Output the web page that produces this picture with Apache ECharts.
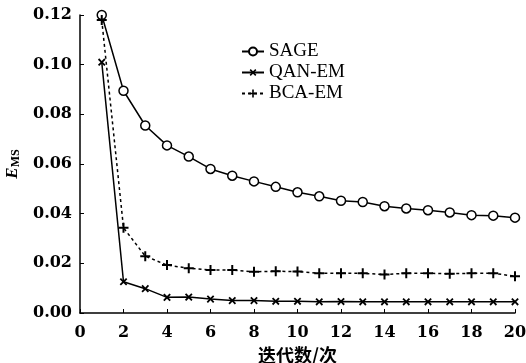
<!DOCTYPE html>
<html><head><meta charset="utf-8">
<script src="https://cdn.jsdelivr.net/npm/echarts@6/dist/echarts.min.js"></script>
<style>html,body{margin:0;padding:0;background:#fff}#c{width:526px;height:363px}</style>
</head><body><div id="c"></div>
<script>
const iterations = [1,2,3,4,5,6,7,8,9,10,11,12,13,14,15,16,17,18,19,20];
const sage = [0.120,0.0895,0.0755,0.0675,0.063,0.058,0.0553,0.053,0.0508,0.0486,0.047,0.0452,0.0447,0.043,0.0421,0.0414,0.0405,0.0394,0.0392,0.0384];
const qanem = [0.101,0.0126,0.0098,0.0063,0.0064,0.0056,0.005,0.005,0.0047,0.0047,0.0045,0.0046,0.0045,0.0045,0.0045,0.0045,0.0045,0.0045,0.0045,0.0045];
const bcaem = [0.118,0.0343,0.0229,0.0193,0.018,0.0173,0.0173,0.0166,0.0168,0.0167,0.016,0.016,0.016,0.0155,0.016,0.016,0.0158,0.016,0.016,0.0148];
const names = ['SAGE','QAN-EM','BCA-EM'];
const xTicks = {min:0,max:20,interval:2};
const yTicks = {min:0,max:0.12,interval:0.02};

const plus = 'path://M4,0H6V4H10V6H6V10H4V6H0V4H4Z';
const font = 'Liberation Serif';
const numFont = 'DejaVu Serif';
function pairs(v){return iterations.map((x,i)=>[x,v[i]]);}

const chart = echarts.init(document.getElementById('c'));
chart.setOption({
  animation:false,
  backgroundColor:'#fff',
  grid:{left:80,right:11,top:15,bottom:50,containLabel:false,outerBoundsMode:'none'},
  legend:{
    orient:'vertical', left:236, top:37, itemGap:2, itemWidth:22, itemHeight:10,
    textStyle:{fontFamily:font,fontSize:19,lineHeight:19,color:'#000'},
    data:names
  },
  xAxis:{
    type:'value', min:xTicks.min, max:xTicks.max, interval:xTicks.interval,
    name:'迭代数/次', nameLocation:'middle', nameGap:32,
    nameTextStyle:{fontFamily:'Noto Sans CJK SC',fontSize:18,color:'#000',fontWeight:'bold'},
    axisLine:{lineStyle:{color:'#000',width:1.5}},
    axisTick:{inside:true,length:4,lineStyle:{color:'#000'}},
    axisLabel:{fontFamily:numFont,fontSize:16,fontWeight:'bold',color:'#000',margin:12},
    splitLine:{show:false}
  },
  yAxis:{
    type:'value', min:yTicks.min, max:yTicks.max, interval:yTicks.interval,
    name:'{e|E}{s|MS}', nameLocation:'middle', nameGap:58,
    nameTextStyle:{rich:{e:{fontFamily:font,fontStyle:'italic',fontWeight:'bold',fontSize:17,color:'#000'},s:{fontFamily:font,fontWeight:'bold',fontSize:12,color:'#000',verticalAlign:'bottom',padding:[6,0,0,0]}}},
    axisLine:{show:true,lineStyle:{color:'#000',width:1.5}},
    axisTick:{show:true,inside:true,length:4,lineStyle:{color:'#000'}},
    axisLabel:{fontFamily:numFont,fontSize:16,fontWeight:'bold',color:'#000',margin:8,formatter:v=>v.toFixed(2)},
    splitLine:{show:false}
  },
  series:[
    {name:names[0],type:'line',data:pairs(sage),symbol:'circle',symbolSize:9,
     lineStyle:{color:'#000',width:1.5},
     itemStyle:{color:'#fff',borderColor:'#000',borderWidth:1.5}},
    {name:names[1],type:'line',data:pairs(qanem),symbol:plus,symbolSize:9,symbolRotate:45,
     lineStyle:{color:'#000',width:1.5},
     itemStyle:{color:'#000'}},
    {name:names[2],type:'line',data:pairs(bcaem),symbol:plus,symbolSize:10,
     lineStyle:{color:'#000',width:1.5,type:[3,3]},
     itemStyle:{color:'#000'}}
  ]
});
</script></body></html>
